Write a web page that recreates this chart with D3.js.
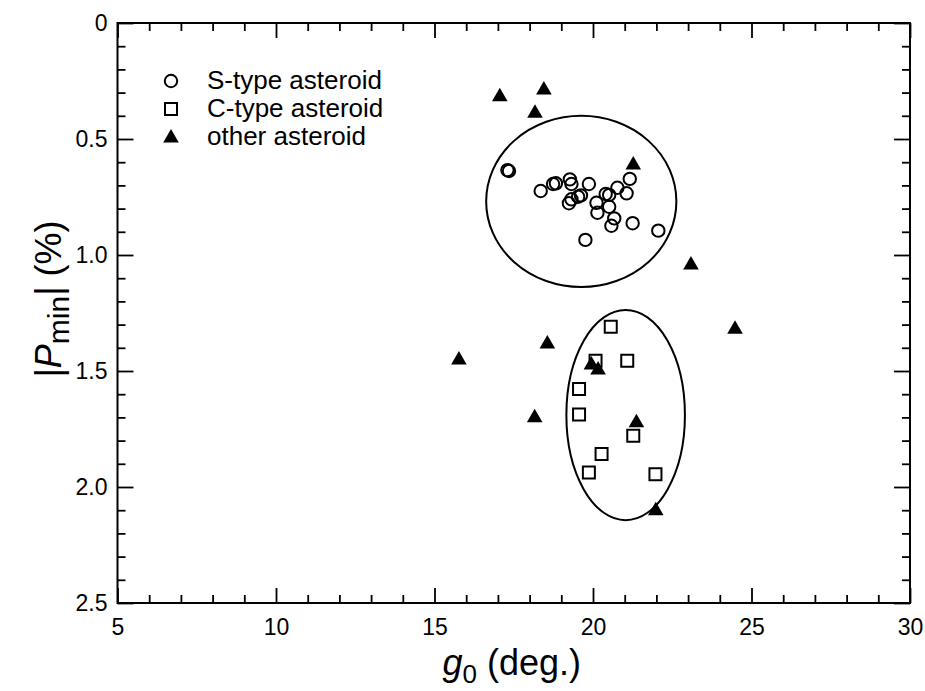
<!DOCTYPE html>
<html>
<head>
<meta charset="utf-8">
<script src="https://cdn.jsdelivr.net/npm/d3@7"></script>
<style>
  html, body { margin: 0; padding: 0; background: #fff; }
  svg { display: block; }
  text { font-family: "Liberation Sans", Arial, Helvetica, sans-serif; fill: #000; }
</style>
</head>
<body>
<svg id="chart" width="925" height="691"></svg>
<script>
// Minimum polarization depth |Pmin| versus inversion angle g0
const sTypeG0   = [17.30, 17.35, 18.35, 18.74, 18.83, 19.27, 19.32, 19.87, 19.24, 19.32, 19.53, 19.62, 20.11, 20.14, 20.40, 20.51, 20.51, 20.77, 21.06, 21.16, 20.67, 20.58, 21.25, 22.06, 19.76];
const sTypePmin = [0.634, 0.638, 0.724, 0.694, 0.691, 0.674, 0.694, 0.694, 0.777, 0.760, 0.749, 0.743, 0.775, 0.818, 0.737, 0.741, 0.792, 0.710, 0.734, 0.672, 0.842, 0.874, 0.863, 0.895, 0.935];

const cTypeG0   = [20.56, 20.08, 21.08, 19.56, 19.56, 21.27, 20.27, 19.87, 21.97];
const cTypePmin = [1.309, 1.456, 1.456, 1.578, 1.687, 1.779, 1.858, 1.937, 1.945];

const otherG0   = [17.06, 18.45, 18.17, 21.27, 23.09, 15.77, 18.56, 18.16, 24.48, 19.95, 20.16, 21.37, 21.98];
const otherPmin = [0.318, 0.289, 0.389, 0.612, 1.043, 1.453, 1.384, 1.701, 1.320, 1.474, 1.496, 1.723, 2.102];

// Group outlines: centre and semi-axes in data units
const groupCenterG0   = [19.63, 21.03];
const groupCenterPmin = [0.769, 1.690];
const groupRadiusG0   = [3.00, 1.87];
const groupRadiusPmin = [0.369, 0.453];

const xMajorTicks = [5, 10, 15, 20, 25, 30];
const yMajorTicks = [0, 0.5, 1.0, 1.5, 2.0, 2.5];
const yTickLabels = ["0", "0.5", "1.0", "1.5", "2.0", "2.5"];

const legendLabels = ["S-type asteroid", "C-type asteroid", "other asteroid"];

const svg = d3.select("#chart");
const plotLeft = 117.5, plotRight = 910, plotTop = 23, plotBottom = 603;

const x = d3.scaleLinear().domain([5, 30]).range([plotLeft, plotRight]);
const y = d3.scaleLinear().domain([0, 2.5]).range([plotTop, plotBottom]);

const xMinor = d3.range(5, 30.01, 1).filter(v => !xMajorTicks.includes(v));
const yMinor = d3.range(0, 25.01, 1).map(v => v / 10).filter(v => !yMajorTicks.some(m => Math.abs(m - v) < 1e-9));

function styleAxis(g) {
  g.select(".domain").remove();
  g.selectAll(".tick line").attr("stroke", "#000").attr("stroke-width", 1.8);
}

// Major and minor ticks, pointing inward on all four sides
svg.append("g").attr("transform", `translate(0,${plotBottom})`)
  .call(d3.axisBottom(x).tickValues(xMajorTicks).tickSize(-15).tickSizeOuter(0).tickPadding(16).tickFormat(d3.format("d")))
  .call(styleAxis)
  .call(g => g.selectAll("text").attr("font-size", 23).attr("font-family", "Liberation Sans, Arial, sans-serif"));
svg.append("g").attr("transform", `translate(0,${plotBottom})`)
  .call(d3.axisBottom(x).tickValues(xMinor).tickSize(-8).tickSizeOuter(0).tickFormat(""))
  .call(styleAxis);
svg.append("g").attr("transform", `translate(0,${plotTop})`)
  .call(d3.axisTop(x).tickValues(xMajorTicks).tickSize(-15).tickSizeOuter(0).tickFormat(""))
  .call(styleAxis);
svg.append("g").attr("transform", `translate(0,${plotTop})`)
  .call(d3.axisTop(x).tickValues(xMinor).tickSize(-8).tickSizeOuter(0).tickFormat(""))
  .call(styleAxis);

svg.append("g").attr("transform", `translate(${plotLeft},0)`)
  .call(d3.axisLeft(y).tickValues(yMajorTicks).tickSize(-16).tickSizeOuter(0).tickPadding(10)
        .tickFormat((d, i) => yTickLabels[i]))
  .call(styleAxis)
  .call(g => g.selectAll("text").attr("font-size", 23).attr("font-family", "Liberation Sans, Arial, sans-serif"));
svg.append("g").attr("transform", `translate(${plotLeft},0)`)
  .call(d3.axisLeft(y).tickValues(yMinor).tickSize(-8).tickSizeOuter(0).tickFormat(""))
  .call(styleAxis);
svg.append("g").attr("transform", `translate(${plotRight},0)`)
  .call(d3.axisRight(y).tickValues(yMajorTicks).tickSize(-16).tickSizeOuter(0).tickFormat(""))
  .call(styleAxis);
svg.append("g").attr("transform", `translate(${plotRight},0)`)
  .call(d3.axisRight(y).tickValues(yMinor).tickSize(-8).tickSizeOuter(0).tickFormat(""))
  .call(styleAxis);

// Plot frame
svg.append("rect")
  .attr("x", plotLeft).attr("y", plotTop)
  .attr("width", plotRight - plotLeft).attr("height", plotBottom - plotTop)
  .attr("fill", "none").attr("stroke", "#000").attr("stroke-width", 2);

// Group ellipses
svg.append("g").selectAll("ellipse")
  .data(d3.range(groupCenterG0.length))
  .join("ellipse")
  .attr("cx", i => x(groupCenterG0[i]))
  .attr("cy", i => y(groupCenterPmin[i]))
  .attr("rx", i => x(groupCenterG0[i] + groupRadiusG0[i]) - x(groupCenterG0[i]))
  .attr("ry", i => y(groupCenterPmin[i] + groupRadiusPmin[i]) - y(groupCenterPmin[i]))
  .attr("fill", "none").attr("stroke", "#000").attr("stroke-width", 2);

const squareSym = d3.symbol().type(d3.symbolSquare).size(12 * 12);
const triSym = d3.symbol().type(d3.symbolTriangle).size(105);

// S-type: open circles
svg.append("g").selectAll("circle")
  .data(d3.zip(sTypeG0, sTypePmin))
  .join("circle")
  .attr("cx", d => x(d[0])).attr("cy", d => y(d[1])).attr("r", 6.2)
  .attr("fill", "none").attr("stroke", "#000").attr("stroke-width", 2);

// C-type: open squares
svg.append("g").selectAll("path")
  .data(d3.zip(cTypeG0, cTypePmin))
  .join("path")
  .attr("d", squareSym)
  .attr("transform", d => `translate(${x(d[0])},${y(d[1])})`)
  .attr("fill", "none").attr("stroke", "#000").attr("stroke-width", 2);

// Other: filled triangles
svg.append("g").selectAll("path")
  .data(d3.zip(otherG0, otherPmin))
  .join("path")
  .attr("d", triSym)
  .attr("transform", d => `translate(${x(d[0])},${y(d[1])})`)
  .attr("fill", "#000");

// Legend
const legend = svg.append("g").attr("transform", "translate(171,81)");
const legendGap = 28;
legend.append("circle").attr("cx", 0).attr("cy", 0).attr("r", 6.2)
  .attr("fill", "none").attr("stroke", "#000").attr("stroke-width", 2);
legend.append("path").attr("d", squareSym).attr("transform", `translate(0,${legendGap})`)
  .attr("fill", "none").attr("stroke", "#000").attr("stroke-width", 2);
legend.append("path").attr("d", triSym).attr("transform", `translate(0,${legendGap * 2 + 1})`)
  .attr("fill", "#000");
legend.selectAll("text.lbl")
  .data(legendLabels)
  .join("text")
  .attr("class", "lbl")
  .attr("x", 36)
  .attr("y", (d, i) => i * legendGap + 8)
  .attr("font-size", 26)
  .text(d => d);

// Axis titles
const xTitle = svg.append("text")
  .attr("x", (plotLeft + plotRight) / 2 - 2).attr("y", 675)
  .attr("text-anchor", "middle").attr("font-size", 36);
xTitle.append("tspan").attr("font-style", "italic").text("g");
xTitle.append("tspan").attr("font-size", 26).attr("dy", 8).text("0");
xTitle.append("tspan").attr("dy", -8).text(" (deg.)");

const yTitle = svg.append("text")
  .attr("transform", `translate(61,${(plotTop + plotBottom) / 2 - 14}) rotate(-90)`)
  .attr("text-anchor", "middle").attr("font-size", 36);
yTitle.append("tspan").text("|");
yTitle.append("tspan").attr("font-style", "italic").text("P");
yTitle.append("tspan").attr("font-size", 30).attr("dy", 8).text("min");
yTitle.append("tspan").attr("dy", -8).text("| (%)");
</script>
</body>
</html>
